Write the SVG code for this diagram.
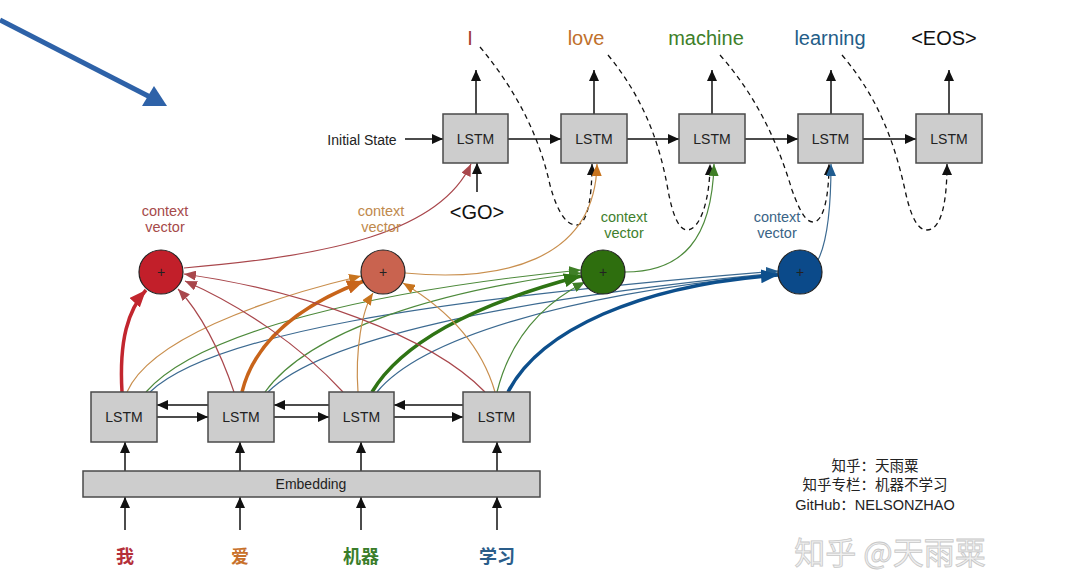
<svg xmlns="http://www.w3.org/2000/svg" width="1080" height="586" viewBox="0 0 1080 586">
<style>
.box{fill:#cdcdcd;stroke:#4a4a4a;stroke-width:1.5}
.lbl{font-family:"Liberation Sans",Arial,sans-serif;font-size:14px;fill:#222;text-anchor:middle}
.blk{fill:none;stroke:#111;stroke-width:1.5}
.dash{fill:none;stroke:#111;stroke-width:1.3;stroke-dasharray:5,4}
.word{font-family:"Liberation Sans",Arial,sans-serif;font-size:20px;text-anchor:middle}
.ctx{font-family:"Liberation Sans",Arial,sans-serif;font-size:14.5px;text-anchor:middle}
.cn{font-family:"Noto Sans CJK SC",sans-serif;font-size:18px;font-weight:bold;text-anchor:middle}
.wm{font-family:"Liberation Sans","Noto Sans CJK SC",sans-serif;font-size:14.5px;fill:#222;text-anchor:middle}
.thin{fill:none;stroke-width:1.2}
.thick{fill:none;stroke-width:3.5}
.r{stroke:#a9474c}.o{stroke:#c98f4e}.g{stroke:#4d8a3b}.b{stroke:#3c6a91}
.R{stroke:#c2262e}.O{stroke:#c8641a}.G{stroke:#2f7414}.B{stroke:#0d4f8c}
</style>
<defs>
<marker id="ak" markerUnits="userSpaceOnUse" markerWidth="12" markerHeight="10" refX="11" refY="5" orient="auto"><path d="M0,0 L11,5 L0,10 Z" fill="#111"/></marker>
<marker id="ar" markerUnits="userSpaceOnUse" markerWidth="13" markerHeight="10" refX="12" refY="5" orient="auto"><path d="M0,0 L12,5 L0,10 Z" fill="#a9474c"/></marker>
<marker id="ao" markerUnits="userSpaceOnUse" markerWidth="13" markerHeight="10" refX="12" refY="5" orient="auto"><path d="M0,0 L12,5 L0,10 Z" fill="#c8741e"/></marker>
<marker id="ag" markerUnits="userSpaceOnUse" markerWidth="13" markerHeight="10" refX="12" refY="5" orient="auto"><path d="M0,0 L12,5 L0,10 Z" fill="#3f7f26"/></marker>
<marker id="ab" markerUnits="userSpaceOnUse" markerWidth="13" markerHeight="10" refX="12" refY="5" orient="auto"><path d="M0,0 L12,5 L0,10 Z" fill="#1f5c90"/></marker>
<marker id="AR" markerUnits="userSpaceOnUse" markerWidth="18" markerHeight="14" refX="17" refY="7" orient="auto"><path d="M0,0 L17,7 L0,14 Z" fill="#c2262e"/></marker>
<marker id="AO" markerUnits="userSpaceOnUse" markerWidth="18" markerHeight="14" refX="17" refY="7" orient="auto"><path d="M0,0 L17,7 L0,14 Z" fill="#c8641a"/></marker>
<marker id="AG" markerUnits="userSpaceOnUse" markerWidth="18" markerHeight="14" refX="17" refY="7" orient="auto"><path d="M0,0 L17,7 L0,14 Z" fill="#2f7414"/></marker>
<marker id="AB" markerUnits="userSpaceOnUse" markerWidth="18" markerHeight="14" refX="17" refY="7" orient="auto"><path d="M0,0 L17,7 L0,14 Z" fill="#0d4f8c"/></marker>
</defs>
<rect width="1080" height="586" fill="#fff"/>

<g id="pointer">
<line x1="0" y1="20" x2="152" y2="98" stroke="#2e62a8" stroke-width="5"/>
<polygon points="167,106 142,106 154,86" fill="#2e62a8"/>
</g>

<g id="connectors">
<line class="blk" x1="405" y1="139" x2="443" y2="139" marker-end="url(#ak)"/>
<line class="blk" x1="508" y1="139" x2="561" y2="139" marker-end="url(#ak)"/>
<line class="blk" x1="627" y1="139" x2="679" y2="139" marker-end="url(#ak)"/>
<line class="blk" x1="745" y1="139" x2="798" y2="139" marker-end="url(#ak)"/>
<line class="blk" x1="863" y1="139" x2="916" y2="139" marker-end="url(#ak)"/>
<line class="blk" x1="476" y1="114" x2="476" y2="70" marker-end="url(#ak)"/>
<line class="blk" x1="594" y1="114" x2="594" y2="70" marker-end="url(#ak)"/>
<line class="blk" x1="712" y1="114" x2="712" y2="70" marker-end="url(#ak)"/>
<line class="blk" x1="831" y1="114" x2="831" y2="70" marker-end="url(#ak)"/>
<line class="blk" x1="949" y1="114" x2="949" y2="70" marker-end="url(#ak)"/>
<line class="blk" x1="477" y1="192" x2="477" y2="163" marker-end="url(#ak)"/>
<path class="dash" d="M480,47 C520,95 540,140 550,185 C558,215 568,226 577,225 C588,224 592,195 592,164" marker-end="url(#ak)"/>
<path class="dash" d="M608,55 C645,100 660,145 668,190 C673,218 680,230 687,230 C700,230 710,200 710,164" marker-end="url(#ak)"/>
<path class="dash" d="M720,55 C760,100 780,150 792,190 C800,212 806,222 813,222 C824,222 829,195 829,164" marker-end="url(#ak)"/>
<path class="dash" d="M842,55 C880,100 895,145 905,190 C911,218 918,230 927,230 C942,230 947,200 947,164" marker-end="url(#ak)"/>
<path class="thin r" d="M184,268 C330,256 440,232 471,164" marker-end="url(#ar)"/>
<path class="thin o" d="M405,273 C500,282 595,262 597,164" marker-end="url(#ao)"/>
<path class="thin g" d="M625,272 C682,272 712,240 714,164" marker-end="url(#ag)"/>
<path class="thin b" d="M818,260 C828,240 831,205 831,164" marker-end="url(#ab)"/>
<path class="thin b" d="M150,392 C210,335 420,300 778,271" marker-end="url(#ab)"/>
<path class="thin b" d="M268,392 C320,340 500,300 778,273" marker-end="url(#ab)"/>
<path class="thin b" d="M377,392 C420,340 560,295 778,274" marker-end="url(#ab)"/>
<path class="thick B" d="M508,392 C540,330 640,285 778,275" marker-end="url(#AB)"/>
<path class="thin g" d="M146,392 C200,330 380,290 581,270" marker-end="url(#ag)"/>
<path class="thin g" d="M265,392 C310,330 440,290 581,273" marker-end="url(#ag)"/>
<path class="thick G" d="M372,392 C400,345 470,305 581,276" marker-end="url(#AG)"/>
<path class="thin g" d="M497,392 C510,340 540,305 585,282" marker-end="url(#ag)"/>
<path class="thin o" d="M127,392 C150,340 260,300 361,276" marker-end="url(#ao)"/>
<path class="thick O" d="M242,392 C255,340 300,305 364,281" marker-end="url(#AO)"/>
<path class="thin o" d="M358,392 C355,350 362,310 373,293" marker-end="url(#ao)"/>
<path class="thin o" d="M495,392 C480,340 440,305 403,283" marker-end="url(#ao)"/>
<path class="thick R" d="M122,392 C119,340 128,310 146,290" marker-end="url(#AR)"/>
<path class="thin r" d="M234,392 C220,350 200,312 178,289" marker-end="url(#ar)"/>
<path class="thin r" d="M343,392 C300,345 240,305 185,281" marker-end="url(#ar)"/>
<path class="thin r" d="M485,392 C430,335 300,290 184,274" marker-end="url(#ar)"/>
<line class="blk" x1="208" y1="405" x2="157" y2="405" marker-end="url(#ak)"/>
<line class="blk" x1="329" y1="405" x2="274" y2="405" marker-end="url(#ak)"/>
<line class="blk" x1="463" y1="405" x2="394" y2="405" marker-end="url(#ak)"/>
<line class="blk" x1="157" y1="417" x2="208" y2="417" marker-end="url(#ak)"/>
<line class="blk" x1="274" y1="417" x2="329" y2="417" marker-end="url(#ak)"/>
<line class="blk" x1="394" y1="417" x2="463" y2="417" marker-end="url(#ak)"/>
<line class="blk" x1="125" y1="471" x2="125" y2="442" marker-end="url(#ak)"/>
<line class="blk" x1="240" y1="471" x2="240" y2="442" marker-end="url(#ak)"/>
<line class="blk" x1="361" y1="471" x2="361" y2="442" marker-end="url(#ak)"/>
<line class="blk" x1="497" y1="471" x2="497" y2="442" marker-end="url(#ak)"/>
<line class="blk" x1="125" y1="530" x2="125" y2="497" marker-end="url(#ak)"/>
<line class="blk" x1="240" y1="530" x2="240" y2="497" marker-end="url(#ak)"/>
<line class="blk" x1="361" y1="530" x2="361" y2="497" marker-end="url(#ak)"/>
<line class="blk" x1="497" y1="530" x2="497" y2="497" marker-end="url(#ak)"/>
</g>

<g id="dec1"><rect class="box" x="443" y="114" width="65" height="49"/><text class="lbl" x="475.5" y="144">LSTM</text></g>
<g id="dec2"><rect class="box" x="561" y="114" width="66" height="49"/><text class="lbl" x="594" y="144">LSTM</text></g>
<g id="dec3"><rect class="box" x="679" y="114" width="66" height="49"/><text class="lbl" x="712" y="144">LSTM</text></g>
<g id="dec4"><rect class="box" x="798" y="114" width="65" height="49"/><text class="lbl" x="830.5" y="144">LSTM</text></g>
<g id="dec5"><rect class="box" x="916" y="114" width="66" height="49"/><text class="lbl" x="949" y="144">LSTM</text></g>

<g id="outputs">
<text class="word" x="470" y="45" fill="#a33a32">I</text>
<text class="word" x="586" y="45" fill="#c0702c">love</text>
<text class="word" x="706" y="45" fill="#3e7f2a">machine</text>
<text class="word" x="830" y="45" fill="#245d88">learning</text>
<text class="word" x="944" y="45" fill="#111">&lt;EOS&gt;</text>
</g>
<g id="initial"><text class="lbl" x="362" y="145" font-size="14.5">Initial State</text></g>
<g id="go"><text class="word" x="477" y="219" font-size="18" fill="#111">&lt;GO&gt;</text></g>

<g id="ctx1"><text class="ctx" x="165" y="216" fill="#a64a4a">context</text><text class="ctx" x="165" y="232" fill="#a64a4a">vector</text>
<circle cx="161" cy="272" r="22" fill="#c21f2a" stroke="#222" stroke-width="1.2"/><text class="lbl" x="161" y="277" font-size="14">+</text></g>
<g id="ctx2"><text class="ctx" x="381" y="216" fill="#c0894c">context</text><text class="ctx" x="381" y="232" fill="#c0894c">vector</text>
<circle cx="383" cy="272" r="22" fill="#c9634f" stroke="#222" stroke-width="1.2"/><text class="lbl" x="383" y="277" font-size="15">+</text></g>
<g id="ctx3"><text class="ctx" x="624" y="222" fill="#3f7f2e">context</text><text class="ctx" x="624" y="238" fill="#3f7f2e">vector</text>
<circle cx="603" cy="272" r="22" fill="#2e6e0e" stroke="#222" stroke-width="1.2"/><text class="lbl" x="603" y="277" font-size="14">+</text></g>
<g id="ctx4"><text class="ctx" x="777" y="222" fill="#3a6486">context</text><text class="ctx" x="777" y="238" fill="#3a6486">vector</text>
<circle cx="800" cy="272" r="22" fill="#0b4a8a" stroke="#222" stroke-width="1.2"/><text class="lbl" x="800" y="277" font-size="14">+</text></g>

<g id="enc1"><rect class="box" x="91" y="392" width="66" height="50"/><text class="lbl" x="124" y="422">LSTM</text></g>
<g id="enc2"><rect class="box" x="208" y="392" width="66" height="50"/><text class="lbl" x="241" y="422">LSTM</text></g>
<g id="enc3"><rect class="box" x="329" y="392" width="65" height="50"/><text class="lbl" x="361.5" y="422">LSTM</text></g>
<g id="enc4"><rect class="box" x="463" y="392" width="67" height="50"/><text class="lbl" x="496.5" y="422">LSTM</text></g>
<g id="embedding"><rect class="box" x="83" y="471" width="457" height="26"/><text class="lbl" x="311" y="489">Embedding</text></g>

<g id="inputs">
<text class="cn" x="125" y="563" fill="#b5303a">我</text>
<text class="cn" x="240" y="563" fill="#c8702a">爱</text>
<text class="cn" x="361" y="563" fill="#3a7d2a">机器</text>
<text class="cn" x="497" y="563" fill="#2a5d8a">学习</text>
</g>

<g id="credits">
<text class="wm" x="875" y="471">知乎：天雨粟</text>
<text class="wm" x="875" y="490">知乎专栏：机器不学习</text>
<text class="wm" x="875" y="510">GitHub：NELSONZHAO</text>
<text x="890" y="564" font-family="'Noto Sans CJK SC',sans-serif" font-size="31" text-anchor="middle" fill="#f0f0f0" stroke="#c8c8c8" stroke-width="0.8">知乎 @天雨粟</text>
</g>
</svg>
